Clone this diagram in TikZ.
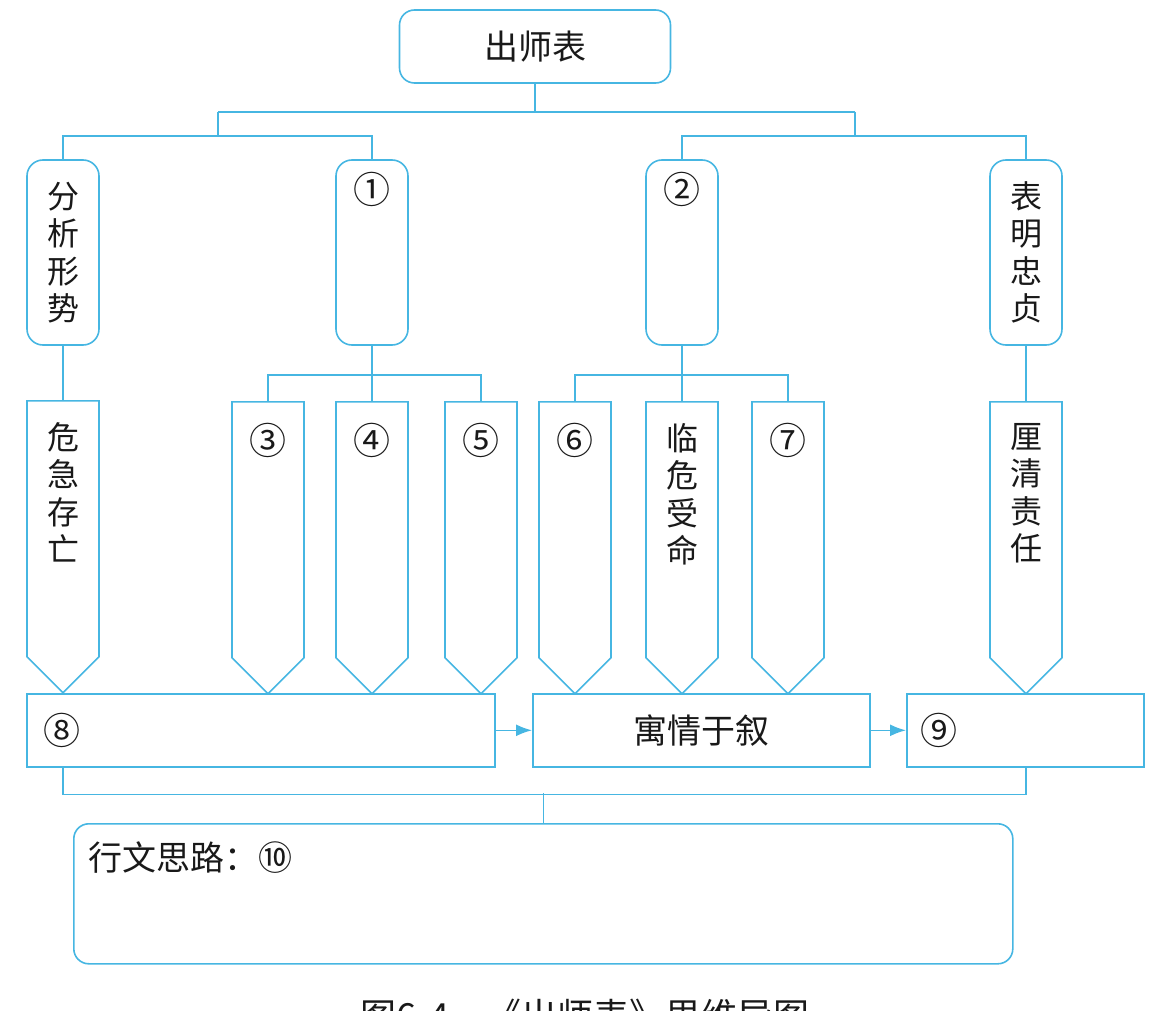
\documentclass[tikz,border=0pt]{standalone}
\usepackage{fontspec}
\setmainfont{Noto Sans CJK SC}
\usetikzlibrary{positioning,shapes.symbols,arrows.meta}
\definecolor{mapblue}{RGB}{70,182,226}
\begin{document}
\begin{tikzpicture}[x=1pt,y=-1pt,>={Latex[length=16pt,width=12pt]},
	every node/.style={inner sep=0pt,text=black!90},
	link/.style={draw=mapblue,line width=1.6pt},
	rbox/.style={link,rounded corners=16pt,minimum width=72pt,minimum height=185pt},
	arrowbox/.style={link,shape=signal,signal to=south,signal from=nowhere,signal pointer angle=90,minimum width=72pt,minimum height=256pt,anchor=north},
	flat/.style={link,minimum height=73pt,anchor=north west},
	vtext/.style={align=center,font=\fontsize{32}{37.5}\selectfont},
	big/.style={font=\fontsize{34}{40}\selectfont},
	num/.style={font=\fontsize{37}{40}\selectfont}]
\clip (0,0) rectangle (1173,1011);
	\node[link,big,rounded corners=15pt,minimum width=271pt,minimum height=73pt] (title) at (535,46.5) {出师表};
	\node[rbox,vtext] (fenxi) at (63,252.5) {分\\析\\形\\势};
	\node[rbox] (c1) at (372,252.5) {};
	\node[num,below=13pt of c1.north] (n1) {①};
	\node[rbox] (c2) at (682,252.5) {};
	\node[num,below=13pt of c2.north] (n2) {②};
	\node[rbox,vtext] (biaoming) at (1026,252.5) {表\\明\\忠\\贞};
	\draw[link] (title.south) -- ++(0,29.5);
	\coordinate (jl) at (218,112);
	\coordinate (jr) at (855,112);
	\draw[link] (jl) -- (jr);
	\draw[link] (jl) -- ++(0,24) coordinate (jl2);
	\draw[link] (fenxi.north) |- (jl2) -| (c1.north);
	\draw[link] (jr) -- ++(0,24) coordinate (jr2);
	\draw[link] (c2.north) |- (jr2) -| (biaoming.north);
	\node[arrowbox] (weiji) at (63,400) {};
	\node[vtext,below=22pt of weiji.north] (t0) {危\\急\\存\\亡};
	\foreach \x/\n/\t in {268/p3/③,372/p4/④,481/p5/⑤,575/p6/⑥,788/p7/⑦}{
		\node[arrowbox] (\n) at (\x,401) {};
		\node[num,below=22pt of \n.north] {\t};
	}
	\node[arrowbox] (linwei) at (682,401) {};
	\node[vtext,below=22pt of linwei.north] (t1) {临\\危\\受\\命};
	\node[arrowbox] (liqing) at (1026,401) {};
	\node[vtext,below=22pt of liqing.north] (t2) {厘\\清\\责\\任};
	\draw[link] (fenxi.south) -- (weiji.north);
	\draw[link] (c1.south) -- ++(0,29) coordinate (k1);
	\draw[link] (p3.north) |- (k1) -| (p5.north);
	\draw[link] (k1) -- (p4.north);
	\draw[link] (c2.south) -- ++(0,29) coordinate (k2);
	\draw[link] (p6.north) |- (k2) -| (p7.north);
	\draw[link] (k2) -- (linwei.north);
	\draw[link] (biaoming.south) -- (liqing.north);
	\node[flat,minimum width=468pt] (b8) at (26,693) {};
	\node[num,right=17pt of b8.west] (n8) {⑧};
	\node[flat,big,minimum width=337pt] (yuqing) at (532,693) {寓情于叙};
	\node[flat,minimum width=237pt] (b9) at (906,693) {};
	\node[num,right=14pt of b9.west] (n9) {⑨};
	\draw[link,->] (b8) -- (yuqing);
	\draw[link,->] (yuqing) -- (b9);
	\node[link,rounded corners=15pt,minimum width=939pt,minimum height=140pt,anchor=north west] (summary) at (73,823) {};
	\draw[link] (b8.south -| weiji.south) -- ++(0,27) -| (b9.south -| liqing.south);
	\draw[link] (summary.north) -- ++(0,-30);
	\node[big,anchor=west] (idea) at (88,858) {行文思路：⑩};
	\node[font=\fontsize{36}{40}\selectfont] (caption) at (585,1016) {图6-4\quad《出师表》思维导图};
\end{tikzpicture}
\end{document}
